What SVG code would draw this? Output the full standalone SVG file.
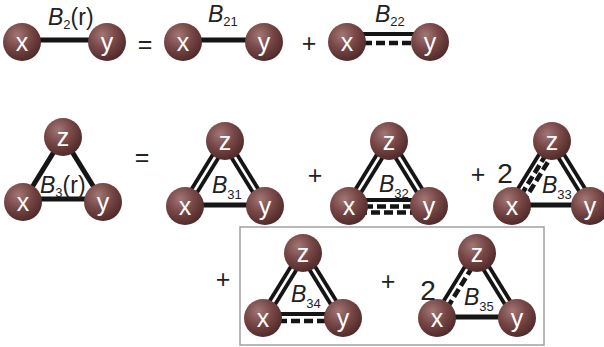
<svg xmlns="http://www.w3.org/2000/svg" width="604" height="347" viewBox="0 0 604 347">
<defs>
<radialGradient id="ball" cx="0.38" cy="0.32" r="0.72">
<stop offset="0" stop-color="#a07776"/>
<stop offset="0.5" stop-color="#774746"/>
<stop offset="1" stop-color="#4d2828"/>
</radialGradient>
</defs>
<style>
.b{fill:url(#ball)}
.bt{fill:#fff;font-family:"Liberation Sans",Arial,sans-serif;font-size:25px;text-anchor:middle}
.s{stroke:#151515;stroke-width:5;fill:none}
.w{stroke:#151515;stroke-width:3.8;fill:none}
.dash{stroke-width:4.6;stroke-dasharray:9 4}
.dash2{stroke-width:4.6;stroke-dasharray:9 4;stroke-dashoffset:6}
.lab{font-family:"Liberation Sans",Arial,sans-serif;font-size:23px;fill:#222}
.it{font-style:italic}
.sub{font-size:13px}
.op{font-family:"Liberation Sans",Arial,sans-serif;font-size:25px;fill:#222;text-anchor:middle}
</style>
<rect x="0" y="0" width="604" height="347" fill="#fff"/>
<rect x="240" y="227" width="304" height="118" fill="none" stroke="#a0a0a0" stroke-width="1.5"/>

<g id="connectors">
<!-- B2(r) -->
<line class="s" x1="22" y1="40" x2="107" y2="40"/>
<!-- B21 -->
<line class="s" x1="183" y1="40" x2="264" y2="40"/>
<!-- B22 -->
<line class="w" x1="347" y1="34" x2="430" y2="34"/>
<line class="w dash" x1="363" y1="43" x2="418" y2="43"/>
<!-- B3(r) -->
<line class="s" x1="23" y1="202" x2="63" y2="137"/>
<line class="s" x1="63" y1="137" x2="103" y2="202"/>
<line class="s" x1="23" y1="199" x2="103" y2="199"/>
<!-- B31 -->
<g transform="translate(185,206) rotate(-58.39)"><line class="w" x1="0" y1="-3.2" x2="76.3" y2="-3.2"/><line class="w" x1="0" y1="3.2" x2="76.3" y2="3.2"/></g>
<g transform="translate(225,141) rotate(58.39)"><line class="w" x1="0" y1="-3.2" x2="76.3" y2="-3.2"/><line class="w" x1="0" y1="3.2" x2="76.3" y2="3.2"/></g>
<line class="s" x1="185" y1="205" x2="265" y2="205"/>
<!-- B32 -->
<g transform="translate(349,206) rotate(-58.39)"><line class="w" x1="0" y1="-3.2" x2="76.3" y2="-3.2"/><line class="w" x1="0" y1="3.2" x2="76.3" y2="3.2"/></g>
<g transform="translate(389,141) rotate(58.39)"><line class="w" x1="0" y1="-3.2" x2="76.3" y2="-3.2"/><line class="w" x1="0" y1="3.2" x2="76.3" y2="3.2"/></g>
<line class="w" x1="349" y1="200" x2="429" y2="200"/>
<line class="w dash" x1="364" y1="206.5" x2="415" y2="206.5"/>
<line class="w dash2" x1="364" y1="212.5" x2="415" y2="212.5"/>
<!-- B33 -->
<g transform="translate(512,206) rotate(-58.39)"><line class="w" x1="0" y1="-4" x2="76.3" y2="-4"/><line class="w dash" x1="14" y1="2" x2="64" y2="2"/><line class="w dash2" x1="14" y1="7.5" x2="64" y2="7.5"/></g>
<g transform="translate(552,141) rotate(58.39)"><line class="w" x1="0" y1="-3.2" x2="76.3" y2="-3.2"/><line class="w" x1="0" y1="3.2" x2="76.3" y2="3.2"/></g>
<line class="s" x1="512" y1="205" x2="592" y2="205"/>
<!-- B34 -->
<g transform="translate(263,318) rotate(-58.39)"><line class="w" x1="0" y1="-3.2" x2="76.3" y2="-3.2"/><line class="w" x1="0" y1="3.2" x2="76.3" y2="3.2"/></g>
<g transform="translate(303,253) rotate(58.39)"><line class="w" x1="0" y1="-3.2" x2="76.3" y2="-3.2"/><line class="w" x1="0" y1="3.2" x2="76.3" y2="3.2"/></g>
<line class="w" x1="263" y1="314" x2="343" y2="314"/>
<line class="w dash" x1="278" y1="321" x2="330" y2="321"/>
<!-- B35 -->
<g transform="translate(437,318) rotate(-58.39)"><line class="w" x1="0" y1="-3.2" x2="76.3" y2="-3.2"/><line class="w dash" x1="14" y1="3.4" x2="64" y2="3.4"/></g>
<g transform="translate(477,253) rotate(58.39)"><line class="w" x1="0" y1="-3.2" x2="76.3" y2="-3.2"/><line class="w" x1="0" y1="3.2" x2="76.3" y2="3.2"/></g>
<line class="s" x1="437" y1="317" x2="517" y2="317"/>
</g>

<!-- top row nodes -->
<g id="b2-x"><circle class="b" cx="22" cy="42" r="19"/><text class="bt" x="22" y="51">x</text></g>
<g id="b2-y"><circle class="b" cx="107" cy="42" r="19"/><text class="bt" x="107" y="51">y</text></g>
<g id="b21-x"><circle class="b" cx="183" cy="42" r="19"/><text class="bt" x="183" y="51">x</text></g>
<g id="b21-y"><circle class="b" cx="264" cy="42" r="19"/><text class="bt" x="264" y="51">y</text></g>
<g id="b22-x"><circle class="b" cx="347" cy="42" r="19"/><text class="bt" x="347" y="51">x</text></g>
<g id="b22-y"><circle class="b" cx="430" cy="42" r="19"/><text class="bt" x="430" y="51">y</text></g>

<!-- triangle nodes -->
<g id="b3-z"><circle class="b" cx="63" cy="137" r="19"/><text class="bt" x="63" y="146">z</text></g>
<g id="b3-x"><circle class="b" cx="23" cy="202" r="19"/><text class="bt" x="23" y="211">x</text></g>
<g id="b3-y"><circle class="b" cx="103" cy="202" r="19"/><text class="bt" x="103" y="211">y</text></g>

<g id="b31-z"><circle class="b" cx="225" cy="141" r="19"/><text class="bt" x="225" y="150">z</text></g>
<g id="b31-x"><circle class="b" cx="185" cy="206" r="19"/><text class="bt" x="185" y="215">x</text></g>
<g id="b31-y"><circle class="b" cx="265" cy="206" r="19"/><text class="bt" x="265" y="215">y</text></g>

<g id="b32-z"><circle class="b" cx="389" cy="141" r="19"/><text class="bt" x="389" y="150">z</text></g>
<g id="b32-x"><circle class="b" cx="349" cy="206" r="19"/><text class="bt" x="349" y="215">x</text></g>
<g id="b32-y"><circle class="b" cx="429" cy="206" r="19"/><text class="bt" x="429" y="215">y</text></g>

<g id="b33-z"><circle class="b" cx="552" cy="141" r="19"/><text class="bt" x="552" y="150">z</text></g>
<g id="b33-x"><circle class="b" cx="512" cy="206" r="19"/><text class="bt" x="512" y="215">x</text></g>
<g id="b33-y"><circle class="b" cx="590" cy="206" r="19"/><text class="bt" x="590" y="215">y</text></g>

<g id="b34-z"><circle class="b" cx="303" cy="253" r="19"/><text class="bt" x="303" y="262">z</text></g>
<g id="b34-x"><circle class="b" cx="263" cy="318" r="19"/><text class="bt" x="263" y="327">x</text></g>
<g id="b34-y"><circle class="b" cx="343" cy="318" r="19"/><text class="bt" x="343" y="327">y</text></g>

<g id="b35-z"><circle class="b" cx="477" cy="253" r="19"/><text class="bt" x="477" y="262">z</text></g>
<g id="b35-x"><circle class="b" cx="437" cy="318" r="19"/><text class="bt" x="437" y="327">x</text></g>
<g id="b35-y"><circle class="b" cx="517" cy="318" r="19"/><text class="bt" x="517" y="327">y</text></g>

<!-- labels -->
<text class="lab" x="48" y="25"><tspan class="it">B</tspan><tspan class="sub" dy="4">2</tspan><tspan dy="-4">(r)</tspan></text>
<text class="lab" x="208" y="22"><tspan class="it">B</tspan><tspan class="sub" dy="4">21</tspan></text>
<text class="lab" x="375" y="22"><tspan class="it">B</tspan><tspan class="sub" dy="4">22</tspan></text>
<text class="lab" x="40" y="193"><tspan class="it">B</tspan><tspan class="sub" dy="4">3</tspan><tspan dy="-4">(r)</tspan></text>
<text class="lab" x="212" y="193"><tspan class="it">B</tspan><tspan class="sub" dy="6">31</tspan></text>
<text class="lab" x="379" y="192"><tspan class="it">B</tspan><tspan class="sub" dy="6">32</tspan></text>
<text class="lab" x="542" y="193"><tspan class="it">B</tspan><tspan class="sub" dy="6">33</tspan></text>
<text class="lab" x="291" y="302"><tspan class="it">B</tspan><tspan class="sub" dy="6">34</tspan></text>
<text class="lab" x="464" y="305"><tspan class="it">B</tspan><tspan class="sub" dy="6">35</tspan></text>

<!-- operators -->
<text class="op" x="145" y="53">=</text>
<text class="op" x="309" y="52">+</text>
<text class="op" x="142" y="166">=</text>
<text class="op" x="315" y="184">+</text>
<text class="op" x="478" y="183">+</text>
<text class="op" x="505" y="183" style="font-size:28px">2</text>
<text class="op" x="223" y="288">+</text>
<text class="op" x="388" y="290">+</text>
<text class="op" x="428" y="300" style="font-size:28px">2</text>
</svg>
